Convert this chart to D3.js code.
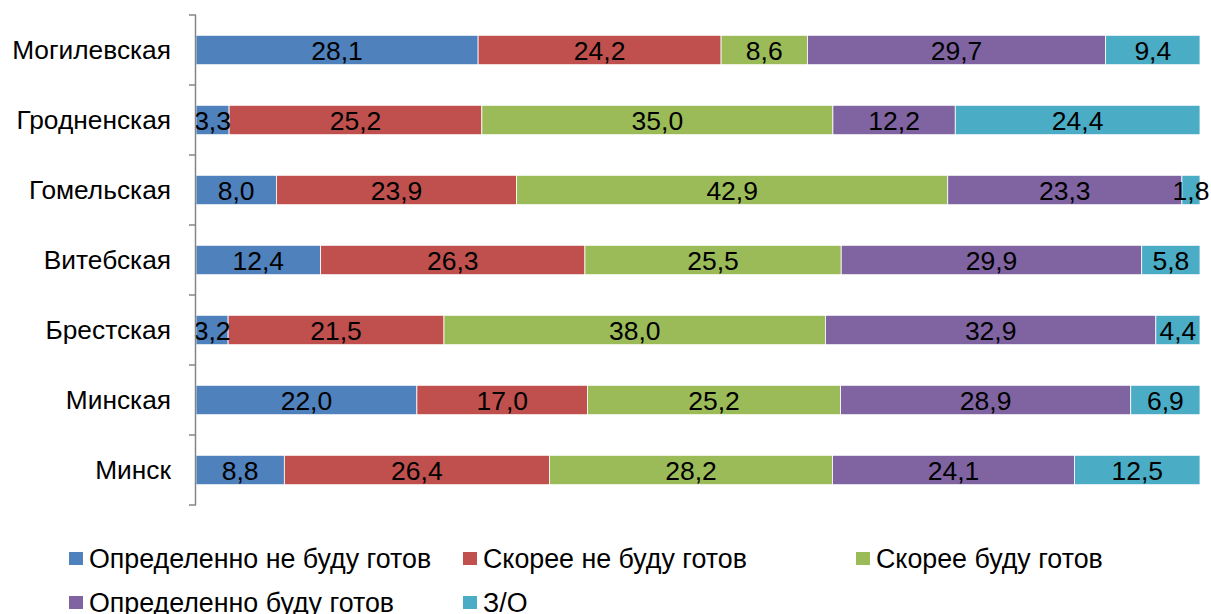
<!DOCTYPE html>
<html><head><meta charset="utf-8">
<script src="https://cdn.jsdelivr.net/npm/d3@7"></script>
<style>
body{margin:0;background:#fff;}
text{font-family:"Liberation Sans",Arial,sans-serif;}
</style></head>
<body><svg id="c" width="1211" height="614"></svg>
<script>
const categories = ["Могилевская","Гродненская","Гомельская","Витебская","Брестская","Минская","Минск"];
const seriesNames = ["Определенно не буду готов","Скорее не буду готов","Скорее буду готов","Определенно буду готов","З/О"];
const colors = ["#4F81BD","#C0504D","#9BBB59","#8064A2","#4BACC6"];
const defNot = [28.1, 3.3, 8.0, 12.4, 3.2, 22.0, 8.8];
const ratherNot = [24.2, 25.2, 23.9, 26.3, 21.5, 17.0, 26.4];
const ratherYes = [8.6, 35.0, 42.9, 25.5, 38.0, 25.2, 28.2];
const defYes = [29.7, 12.2, 23.3, 29.9, 32.9, 28.9, 24.1];
const dk = [9.4, 24.4, 1.8, 5.8, 4.4, 6.9, 12.5];
const seriesValues = [defNot, ratherNot, ratherYes, defYes, dk];

const svg = d3.select("#c");
const pL = 196, pR = 1200, pT = 15, pB = 505;
const x = d3.scaleLinear().domain([0,100]).range([pL,pR]);
const y = d3.scaleBand().domain(categories).range([pT,pB]).paddingInner(0.58).paddingOuter(0.29);

const rows = categories.map((c,i)=>{
  const vals = seriesValues.map(s=>s[i]);
  const total = d3.sum(vals);
  let acc = 0;
  return vals.map((v,j)=>{ const s = acc; acc += v/total*100; return {cat:c, v, j, x0:s, x1:acc}; });
});

const g = svg.append("g");
rows.forEach(r=>{
  g.selectAll(null).data(r).enter().append("rect")
    .attr("x",d=>x(d.x0)).attr("width",d=>x(d.x1)-x(d.x0))
    .attr("y",d=>y(d.cat)).attr("height",y.bandwidth())
    .attr("fill",d=>colors[d.j]).attr("stroke","#fff").attr("stroke-width",0.8);
});
rows.forEach(r=>{
  g.selectAll(null).data(r).enter().append("text")
    .attr("x",d=>(x(d.x0)+x(d.x1))/2).attr("y",d=>y(d.cat)+y.bandwidth()/2)
    .attr("dy","0.36em").attr("text-anchor","middle").attr("font-size",26.5).attr("fill","#000")
    .text(d=>d.v.toFixed(1).replace(".",","));
});

const ax = svg.append("g");
ax.append("line").attr("x1",pL-0.5).attr("x2",pL-0.5).attr("y1",pT).attr("y2",pB).attr("stroke","#868686").attr("stroke-width",1.5);
d3.range(categories.length+1).forEach(k=>{
  const yy = pT + k*(pB-pT)/categories.length;
  ax.append("line").attr("x1",pL-7).attr("x2",pL).attr("y1",yy).attr("y2",yy).attr("stroke","#868686").attr("stroke-width",1.5);
});
ax.selectAll(null).data(categories).enter().append("text")
  .attr("x",171).attr("y",d=>y(d)+y.bandwidth()/2).attr("dy","0.36em")
  .attr("text-anchor","end").attr("font-size",26.3).attr("fill","#000").text(d=>d);

const legPos = [[69,558.5],[463,558.5],[856,558.5],[69,602.5],[463,602.5]];
const lg = svg.append("g");
seriesNames.forEach((n,i)=>{
  const [lx,ly] = legPos[i];
  lg.append("rect").attr("x",lx).attr("y",ly-6.5).attr("width",14).attr("height",13).attr("fill",colors[i]);
  lg.append("text").attr("x",lx+20).attr("y",ly).attr("dy","0.36em").attr("font-size",26.8).attr("fill","#000").text(n);
});
</script></body></html>
